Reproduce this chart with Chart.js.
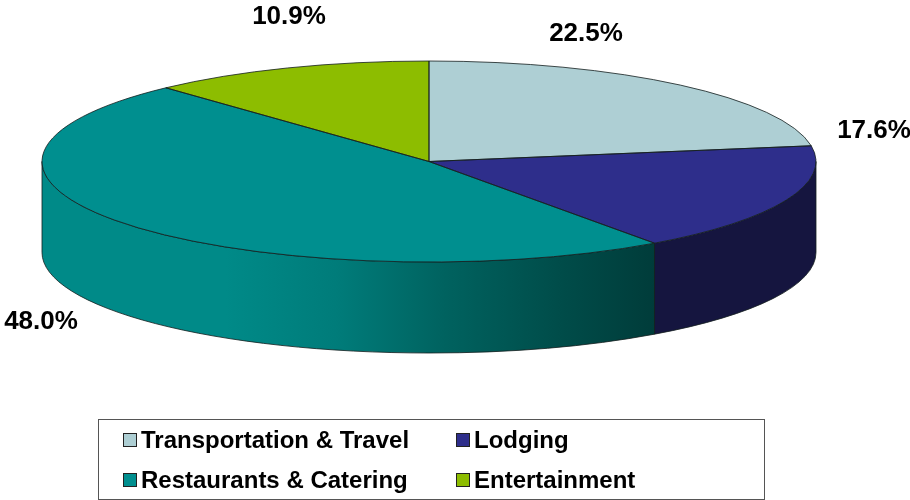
<!DOCTYPE html>
<html>
<head>
<meta charset="utf-8">
<title>Expense breakdown</title>
<script src="https://cdn.jsdelivr.net/npm/chart.js@4"></script>
<style>
  html, body { margin: 0; padding: 0; background: #fff; }
  canvas { display: block; }
</style>
</head>
<body>
<canvas id="pie" width="910" height="500"></canvas>
<script>
const categories = ["Transportation & Travel", "Lodging", "Restaurants & Catering", "Entertainment"];
// slice sizes as measured on the picture, the last slice is drawn about 1 point
// bigger than its printed label says
const sliceValues = [22.5, 17.6, 48.0, 11.9];
const valueLabels = ["22.5%", "17.6%", "48.0%", "10.9%"];
const sliceColors = ["#aecfd4", "#2e2e8b", "#008f8f", "#8dbd00"];

const radiusX = 387;
const radiusY = 100.5;
const depth = 91;
const outline = "rgba(20, 30, 30, 0.8)";

// where each value label is centered
const labelSpots = [[586, 34], [874, 131], [41, 322], [289, 17]];
// legend cells in reading order: swatch x, row y
const legendSpots = [[123, 440], [456, 440], [123, 480], [456, 480]];

function wallFill(ctx, index, left, right) {
  if (index === 1) return "#15153f";
  if (index !== 2) return sliceColors[index];
  const grad = ctx.createLinearGradient(left, 0, right, 0);
  grad.addColorStop(0, "#008a88");
  grad.addColorStop(0.3, "#008a88");
  grad.addColorStop(0.48, "#007c7a");
  grad.addColorStop(0.66, "#00625f");
  grad.addColorStop(0.85, "#004c49");
  grad.addColorStop(1, "#003c3a");
  return grad;
}

const tiltedPie = {
  id: "tiltedPie",
  beforeDatasetsDraw(chart) {
    const ctx = chart.ctx;
    const arcs = chart.getDatasetMeta(0).data;
    const cx = arcs[0].x;
    const cy = arcs[0].y;

    // side wall, only the part of each slice facing the viewer
    arcs.forEach((arc, i) => {
      const a = Math.max(arc.startAngle, 0);
      const b = Math.min(arc.endAngle, Math.PI);
      if (b <= a) return;
      ctx.beginPath();
      ctx.ellipse(cx, cy, radiusX, radiusY, 0, a, b);
      ctx.ellipse(cx, cy + depth, radiusX, radiusY, 0, b, a, true);
      ctx.closePath();
      ctx.fillStyle = wallFill(ctx, i, cx - radiusX, cx + radiusX * Math.cos(a));
      ctx.fill();
      ctx.strokeStyle = outline;
      ctx.lineWidth = 1;
      ctx.stroke();
    });

    // squash the library's circle into the top face
    const r = arcs[0].outerRadius;
    ctx.save();
    ctx.translate(cx, cy);
    ctx.scale(radiusX / r, radiusY / r);
    ctx.translate(-cx, -cy);
  },
  afterDatasetsDraw(chart) {
    const ctx = chart.ctx;
    ctx.restore();

    const arcs = chart.getDatasetMeta(0).data;
    const cx = arcs[0].x;
    const cy = arcs[0].y;

    arcs.forEach((arc) => {
      ctx.beginPath();
      ctx.moveTo(cx, cy);
      ctx.ellipse(cx, cy, radiusX, radiusY, 0, arc.startAngle, arc.endAngle);
      ctx.closePath();
      ctx.strokeStyle = outline;
      ctx.lineWidth = 1;
      ctx.stroke();
    });

    // value labels
    ctx.fillStyle = "#000";
    ctx.font = "bold 26px 'Liberation Sans'";
    ctx.textAlign = "center";
    ctx.textBaseline = "middle";
    valueLabels.forEach((text, i) => {
      ctx.fillText(text, labelSpots[i][0], labelSpots[i][1]);
    });

    // legend box
    ctx.fillStyle = "#fff";
    ctx.fillRect(98.5, 419.5, 666, 80);
    ctx.strokeStyle = "#555";
    ctx.strokeRect(98.5, 419.5, 666, 80);
    ctx.font = "bold 24px 'Liberation Sans'";
    ctx.textAlign = "left";
    categories.forEach((name, i) => {
      const x = legendSpots[i][0];
      const y = legendSpots[i][1];
      ctx.fillStyle = sliceColors[i];
      ctx.fillRect(x + 0.5, y - 6.5, 13, 13);
      ctx.strokeStyle = "#222";
      ctx.strokeRect(x + 0.5, y - 6.5, 13, 13);
      ctx.fillStyle = "#000";
      ctx.fillText(name, x + 18, y + 1);
    });
  },
};

new Chart(document.getElementById("pie"), {
  type: "pie",
  data: {
    labels: categories,
    datasets: [
      {
        data: sliceValues,
        backgroundColor: sliceColors,
        borderWidth: 0,
        hoverOffset: 0,
        clip: false,
      },
    ],
  },
  options: {
    responsive: false,
    animation: false,
    events: [],
    layout: { padding: { left: 329, right: 381, top: 62, bottom: 239 } },
    plugins: {
      legend: { display: false },
      tooltip: { enabled: false },
    },
  },
  plugins: [tiltedPie],
});
</script>
</body>
</html>
